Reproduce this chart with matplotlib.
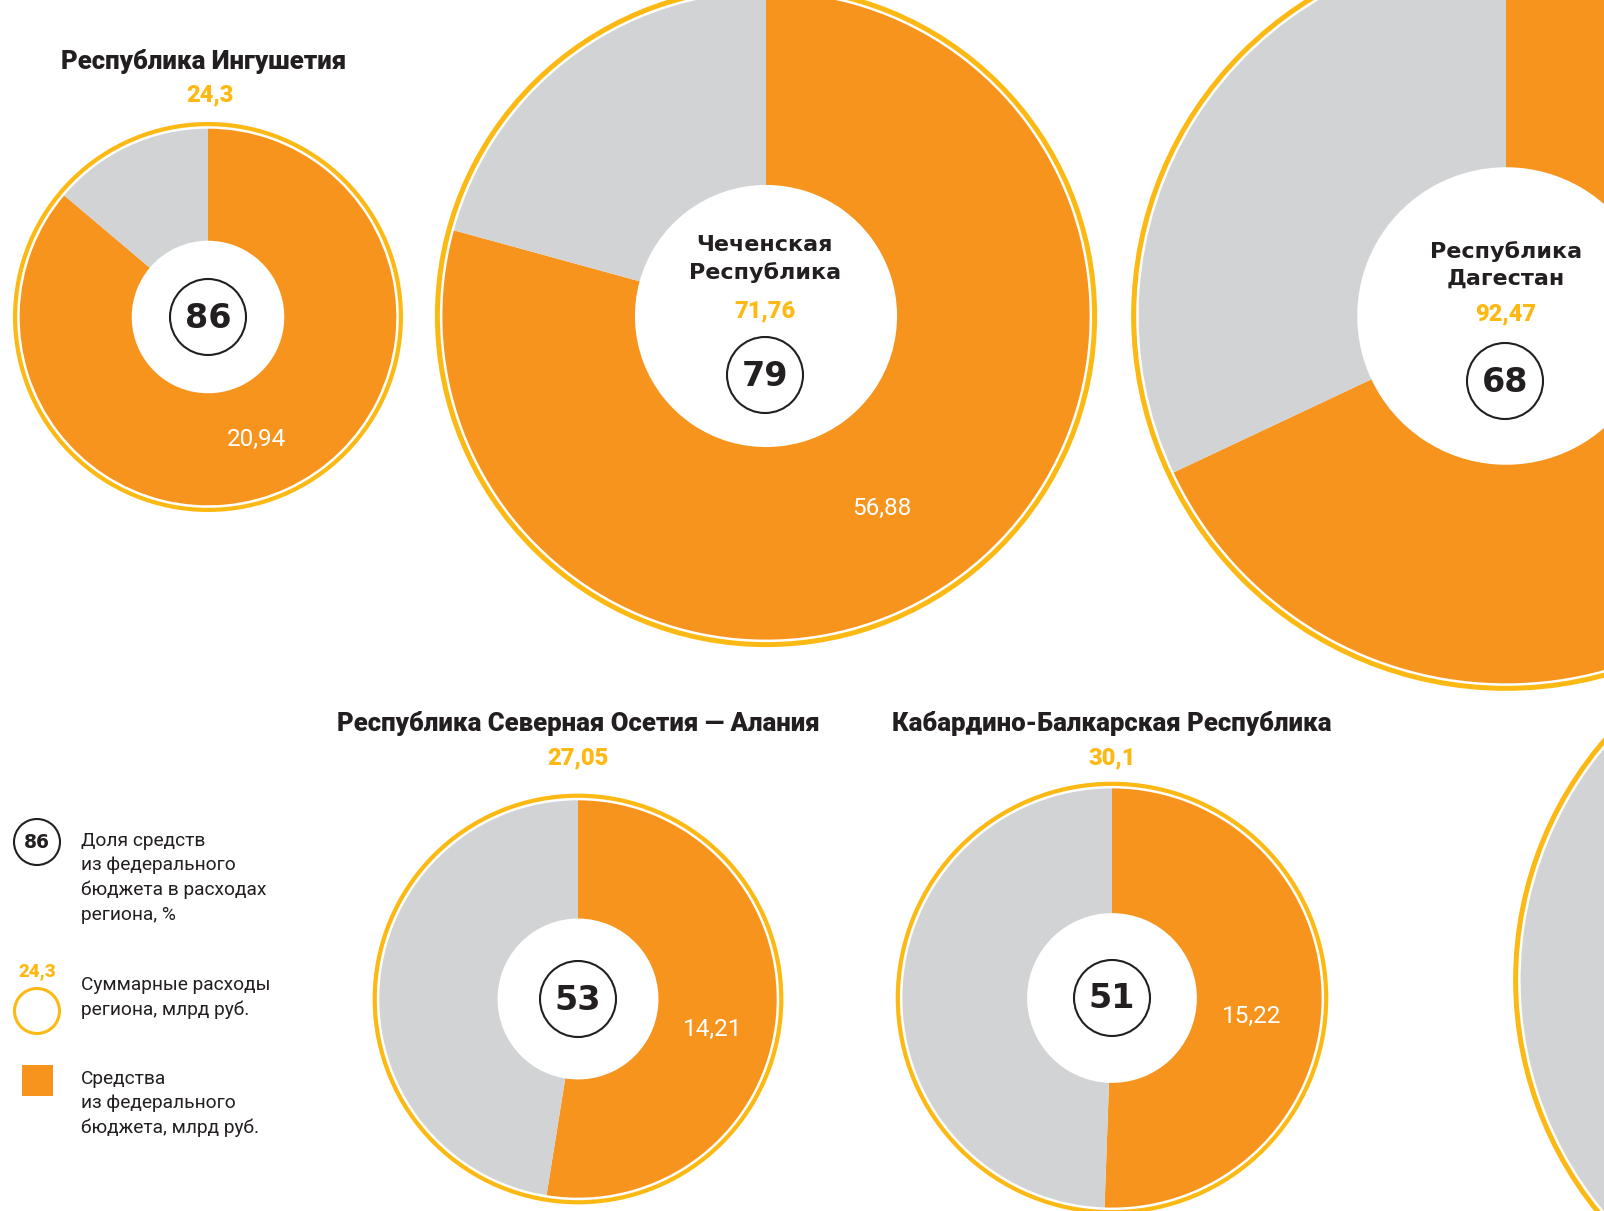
import matplotlib
matplotlib.use("Agg")
import matplotlib.pyplot as plt
from matplotlib.patches import Circle, Rectangle

W, H = 1604, 1211

# ── данные ──
names = ["Республика Ингушетия", "Чеченская\nРеспублика", "Республика\nДагестан",
         "Республика Северная Осетия — Алания", "Кабардино-Балкарская Республика", ""]
totals = [24.3, 71.76, 92.47, 27.05, 30.1, 90.0]      # последний круг виден лишь краем
federal = [20.94, 56.88, None, 14.21, 15.22, None]
shares = [86, 79, 68, 53, 51, 40]
total_labels = ["24,3", "71,76", "92,47", "27,05", "30,1", ""]
federal_labels = ["20,94", "56,88", "", "14,21", "15,22", ""]

legend_texts = ["Доля средств\nиз федерального\nбюджета в расходах\nрегиона, %",
                "Суммарные расходы\nрегиона, млрд руб.",
                "Средства\nиз федерального\nбюджета, млрд руб."]

# ── оформление ──
ORANGE = "#F7941D"
GRAY = "#D1D3D4"
YELLOW = "#FDB913"
DARK = "#231F20"
K = 38.2          # радиус пирога = K * sqrt(сумма)
HOLE = 0.405      # доля радиуса под белое отверстие

centers = [(208, 317), (766, 316), (1506, 316), (578, 999), (1112, 998), (1883, 980)]
title_inside = [False, True, True, False, False, False]
title_pos = [(204, 62), (765, 259), (1506, 265), (578, 724), (1112, 724), None]
total_pos = [(210, 95), (765, 311), (1506, 314), (578, 758), (1112, 758), None]
badge_pos = [(208, 317), (765, 375), (1505, 381), (578, 999), (1112, 998), None]
fed_pos = [(256, 439), (882, 508), None, (713, 1029), (1252, 1016), None]

TITLE_FONT = ["Roboto", "DejaVu Sans"]
BODY_FONT = ["Roboto", "DejaVu Sans"]


def Y(py):
    return H - py


fig = plt.figure(figsize=(W / 100, H / 100), dpi=100)
ax = fig.add_axes([0, 0, 1, 1])

for i, (cx, cy) in enumerate(centers):
    r = K * totals[i] ** 0.5
    frac = federal[i] / totals[i] if federal[i] else shares[i] / 100
    ax.pie([frac, 1 - frac], colors=[ORANGE, GRAY], radius=r, center=(cx, Y(cy)),
           startangle=90, counterclock=False,
           wedgeprops=dict(width=r * (1 - HOLE), linewidth=0))
    ring_w = 5 if r > 250 else 4.2
    ax.add_patch(Circle((cx, Y(cy)), r + 2.5 + ring_w / 2, fill=False,
                        edgecolor=YELLOW, linewidth=ring_w * 0.72))

    if title_pos[i]:
        tx, ty = title_pos[i]
        if title_inside[i]:
            ax.text(tx, Y(ty), names[i], ha="center", va="center", fontsize=16,
                    fontweight="bold", color=DARK, family="DejaVu Sans",
                    linespacing=1.4)
        else:
            ax.text(tx, Y(ty), names[i], ha="center", va="center", fontsize=18.5,
                    fontweight="black", color=DARK, family=TITLE_FONT)
    if total_pos[i]:
        tx, ty = total_pos[i]
        ax.text(tx, Y(ty), total_labels[i], ha="center", va="center", fontsize=17,
                fontweight="black", color=YELLOW, family=TITLE_FONT)
    if badge_pos[i]:
        bx, by = badge_pos[i]
        ax.add_patch(Circle((bx, Y(by)), 38, facecolor="white", edgecolor=DARK,
                            linewidth=1.5))
        ax.text(bx, Y(by) - 1, str(shares[i]), ha="center", va="center", fontsize=24,
                fontweight="bold", color=DARK, family="DejaVu Sans")
    if fed_pos[i]:
        fx, fy = fed_pos[i]
        ax.text(fx, Y(fy), federal_labels[i], ha="center", va="center", fontsize=17.5,
                color="white", family=BODY_FONT)

# ── легенда ──
ax.add_patch(Circle((37, Y(842)), 23, facecolor="white", edgecolor=DARK, linewidth=1.5))
ax.text(37, Y(843), str(shares[0]), ha="center", va="center", fontsize=13.5,
        fontweight="bold", color=DARK, family="DejaVu Sans")
ax.text(37, Y(971), total_labels[0], ha="center", va="center", fontsize=13.5,
        fontweight="black", color=YELLOW, family=TITLE_FONT)
ax.add_patch(Circle((37, Y(1011)), 22.5, fill=False, edgecolor=YELLOW, linewidth=2.2))
ax.add_patch(Rectangle((22, Y(1096)), 31, 31, facecolor=ORANGE, linewidth=0))

legend_y = [832, 976, 1070]
for txt, ly in zip(legend_texts, legend_y):
    ax.text(81, Y(ly), txt, ha="left", va="top", fontsize=13.8, color=DARK,
            family=BODY_FONT, linespacing=1.45)

ax.set_xlim(0, W)
ax.set_ylim(0, H)
ax.set_aspect("equal")
ax.axis("off")

fig.savefig("out.png", dpi=100, facecolor="white")
